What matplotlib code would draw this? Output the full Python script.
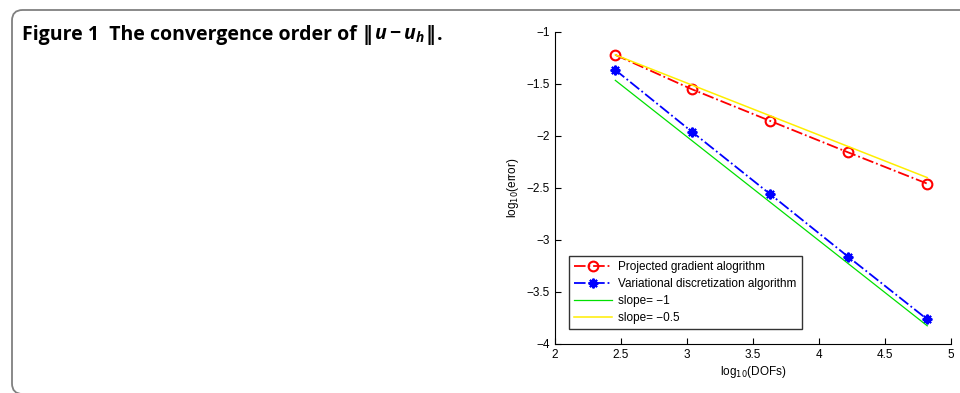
import matplotlib.pyplot as plt
from matplotlib.patches import FancyBboxPatch

plt.rcParams['mathtext.fontset'] = 'custom'
plt.rcParams['mathtext.it'] = 'Open Sans:bold:italic'
plt.rcParams['mathtext.rm'] = 'Open Sans:bold'
plt.rcParams['font.family'] = ['Liberation Sans', 'DejaVu Sans']

dofs = [2.457, 3.036, 3.626, 4.22, 4.82]
err_proj = [-1.22, -1.55, -1.853, -2.157, -2.458]
err_var = [-1.365, -1.958, -2.555, -3.16, -3.763]
ref_x = [2.457, 4.82]
slope1 = [-1.465, -3.825]
slope05 = [-1.22, -2.40]

fig = plt.figure(figsize=(9.6, 3.93), dpi=100)

# rounded frame round the figure panel
frame = FancyBboxPatch((12/960, -1/393), 1.2, 1 - 9/393,
                       boxstyle="round,pad=0,rounding_size=0.011",
                       transform=fig.transFigure, fill=False,
                       edgecolor='#808080', lw=1.3, mutation_aspect=2.44)
fig.patches.append(frame)

# caption, built from pieces so the norm bars come from DejaVu Sans Bold
renderer = fig.canvas.get_renderer()
pieces = [("Figure 1  The convergence order of ", 'Open Sans'),
          ("\u2016", 'DejaVu Sans'),
          ("$u - u_h$", 'Open Sans'),
          ("\u2016", 'DejaVu Sans'),
          (".", 'Open Sans')]
x = 22 / 960
for s, fam in pieces:
    t = fig.text(x, 1 - 40/393, s, fontsize=14, fontweight='bold',
                 family=fam, va='baseline')
    bb = t.get_window_extent(renderer)
    x = bb.x1 / fig.bbox.width + 1 / 960

ax = fig.add_axes([555/960, 1 - 344/393, 396/960, 312/393])
ax.plot(dofs, err_proj, '-.', color='red', lw=1.3, marker='o', ms=7,
        mfc='none', mew=1.5, label='Projected gradient alogrithm')
ax.plot(dofs, err_var, '-.', color='blue', lw=1.3, marker=(8, 2, 0), ms=7,
        mew=1.5, label='Variational discretization algorithm')
ax.plot(ref_x, slope1, '-', color='#00e000', lw=0.9, label='slope= \u22121')
ax.plot(ref_x, slope05, '-', color='#ffee00', lw=1.1, label='slope= \u22120.5')

ax.set_xlim(2, 5)
ax.set_ylim(-4, -1)
ax.set_xticks([2, 2.5, 3, 3.5, 4, 4.5, 5])
ax.set_yticks([-4, -3.5, -3, -2.5, -2, -1.5, -1])
ax.set_xticklabels(['2', '2.5', '3', '3.5', '4', '4.5', '5'])
ax.set_yticklabels(['\u22124', '\u22123.5', '\u22123', '\u22122.5', '\u22122', '\u22121.5', '\u22121'])
ax.tick_params(direction='in', length=4, labelsize=8.5, width=0.8)
ax.spines['top'].set_visible(False)
ax.spines['right'].set_visible(False)
ax.set_xlabel(r'log$_{10}$(DOFs)', fontsize=8.5, labelpad=2)
ax.set_ylabel(r'log$_{10}$(error)', fontsize=8.5, labelpad=4)
ax.xaxis.label.set_math_fontfamily('dejavusans')
ax.yaxis.label.set_math_fontfamily('dejavusans')

leg = ax.legend(loc='lower left', bbox_to_anchor=(0.035, 0.048), fontsize=8.5,
                frameon=True, fancybox=False, edgecolor='black',
                handlelength=3.2, handletextpad=0.5, borderpad=0.45,
                labelspacing=0.42, borderaxespad=0)
leg.get_frame().set_linewidth(1.0)

fig.savefig('out.png', dpi=100)
